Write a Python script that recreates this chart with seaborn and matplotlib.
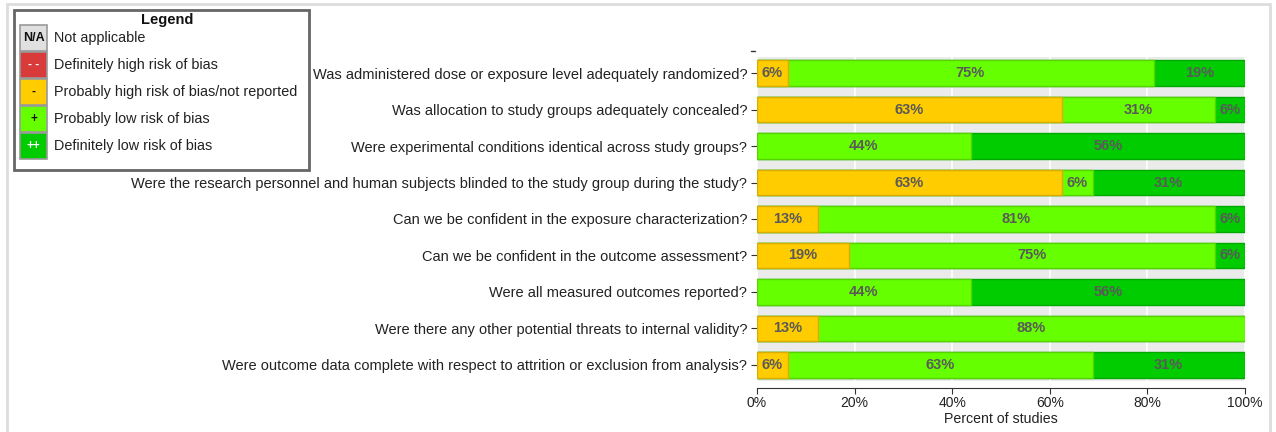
import numpy as np
import pandas as pd
import matplotlib
matplotlib.use("Agg")
import matplotlib.pyplot as plt
import matplotlib.patches as mpatches
import matplotlib.transforms as mtrans
import seaborn as sns

questions = [
    "Was administered dose or exposure level adequately randomized?",
    "Was allocation to study groups adequately concealed?",
    "Were experimental conditions identical across study groups?",
    "Were the research personnel and human subjects blinded to the study group during the study?",
    "Can we be confident in the exposure characterization?",
    "Can we be confident in the outcome assessment?",
    "Were all measured outcomes reported?",
    "Were there any other potential threats to internal validity?",
    "Were outcome data complete with respect to attrition or exclusion from analysis?",
]
# percent of studies in each rating
prob_high = [6.25, 62.5, 0, 62.5, 12.5, 18.75, 0, 12.5, 6.25]
prob_low = [75, 31.25, 43.75, 6.25, 81.25, 75, 43.75, 87.5, 62.5]
def_low = [18.75, 6.25, 56.25, 31.25, 6.25, 6.25, 56.25, 0, 31.25]

legend_codes = ["N/A", "- -", "-", "+", "++"]
legend_labels = ["Not applicable", "Definitely high risk of bias",
                 "Probably high risk of bias/not reported",
                 "Probably low risk of bias", "Definitely low risk of bias"]

c_na, c_red, c_yel, c_lg, c_dg = "#E0E0E0", "#D93A3A", "#FFCC00", "#66FF00", "#00CC00"
e_yel, e_lg, e_dg = "#D9AD00", "#55D400", "#00A800"

df = pd.DataFrame({"question": questions, "ph": prob_high, "pl": prob_low, "dl": def_low})
df["c1"] = df["ph"]
df["c2"] = df["ph"] + df["pl"]
df["c3"] = df["c2"] + df["dl"]

sns.set_style("white")
plt.rcParams["font.family"] = ["Liberation Sans", "DejaVu Sans"]

fig = plt.figure(figsize=(12.76, 4.32), dpi=100)
ax = fig.add_axes([757/1276, 1 - 381/432, 488/1276, 324/432])
ax.set_facecolor("#EBEBEB")

w = 0.71
sns.barplot(data=df, x="c3", y="question", order=questions, orient="h",
            color=c_dg, edgecolor=e_dg, linewidth=1, width=w, saturation=1, ax=ax)
sns.barplot(data=df[df["pl"] > 0], x="c2", y="question", order=questions, orient="h",
            color=c_lg, edgecolor=e_lg, linewidth=1, width=w, saturation=1, ax=ax)
sns.barplot(data=df[df["ph"] > 0], x="c1", y="question", order=questions, orient="h",
            color=c_yel, edgecolor=e_yel, linewidth=1, width=w, saturation=1, ax=ax)

for i, row in df.iterrows():
    start = 0
    for v in (row["ph"], row["pl"], row["dl"]):
        if v > 0:
            ax.text(start + v / 2, i, f"{int(v + 0.5)}%", ha="center", va="center",
                    fontsize=10.5, fontweight="bold", color="#5A5A5A")
        start += v

ax.set_xlim(0, 100)
ax.set_ylim(8.44, -0.44)
ax.set_xticks([0, 20, 40, 60, 80, 100])
ax.set_xticklabels(["0%", "20%", "40%", "60%", "80%", "100%"])
ax.grid(axis="x", color="white", linewidth=1.2)
ax.set_axisbelow(True)
for s in ["top", "right", "left"]:
    ax.spines[s].set_visible(False)
ax.spines["bottom"].set_position(("outward", 5))
ax.spines["bottom"].set_color("#333333")
ax.tick_params(axis="x", length=4, color="#333333", labelsize=10, labelcolor="#222222", pad=2, bottom=True)
ax.tick_params(axis="y", length=4, color="#333333", labelsize=10.5, labelcolor="#222222", pad=3, left=True)
ax.set_xlabel("Percent of studies", fontsize=10.2, color="#222222", labelpad=1)
ax.set_ylabel("")

# extra stray tick above the first row
trans = mtrans.blended_transform_factory(ax.transAxes, ax.transData)
ax.plot([-0.0125, -0.004], [-0.6, -0.6], transform=trans, color="#333333", lw=1, clip_on=False)

# legend box
fig.patches.append(mpatches.Rectangle((14/1276, 1 - 170/432), 295/1276, 160/432,
                   transform=fig.transFigure, fill=False, edgecolor="#666666", lw=2))
fig.text(167/1276, 1 - 20/432, "Legend", ha="center", va="center", fontsize=10.5, fontweight="bold", color="#111111")
sq_colors = [c_na, c_red, c_yel, c_lg, c_dg]
code_colors = ["#111111", "white", "#111111", "#111111", "white"]
for k, (code, lab) in enumerate(zip(legend_codes, legend_labels)):
    top = 25 + k * 27
    fig.patches.append(mpatches.Rectangle((20/1276, 1 - (top + 26)/432), 27/1276, 26/432,
                       transform=fig.transFigure, facecolor=sq_colors[k], edgecolor="#999999", lw=1.2))
    yc = 1 - (top + 13)/432
    fig.text(33.5/1276, yc, code, ha="center", va="center", fontsize=9 if code == "N/A" else 8.5,
             fontweight="bold", color=code_colors[k])
    fig.text(54/1276, yc, lab, ha="left", va="center", fontsize=10.4, color="#222222")

# figure frame
fig.patches.append(mpatches.Rectangle((7/1276, -0.01), 1263/1276, 1 - 4/432 + 0.01,
                   transform=fig.transFigure, fill=False, edgecolor="#DDDDDD", lw=2))

fig.savefig("out.png", dpi=100)
